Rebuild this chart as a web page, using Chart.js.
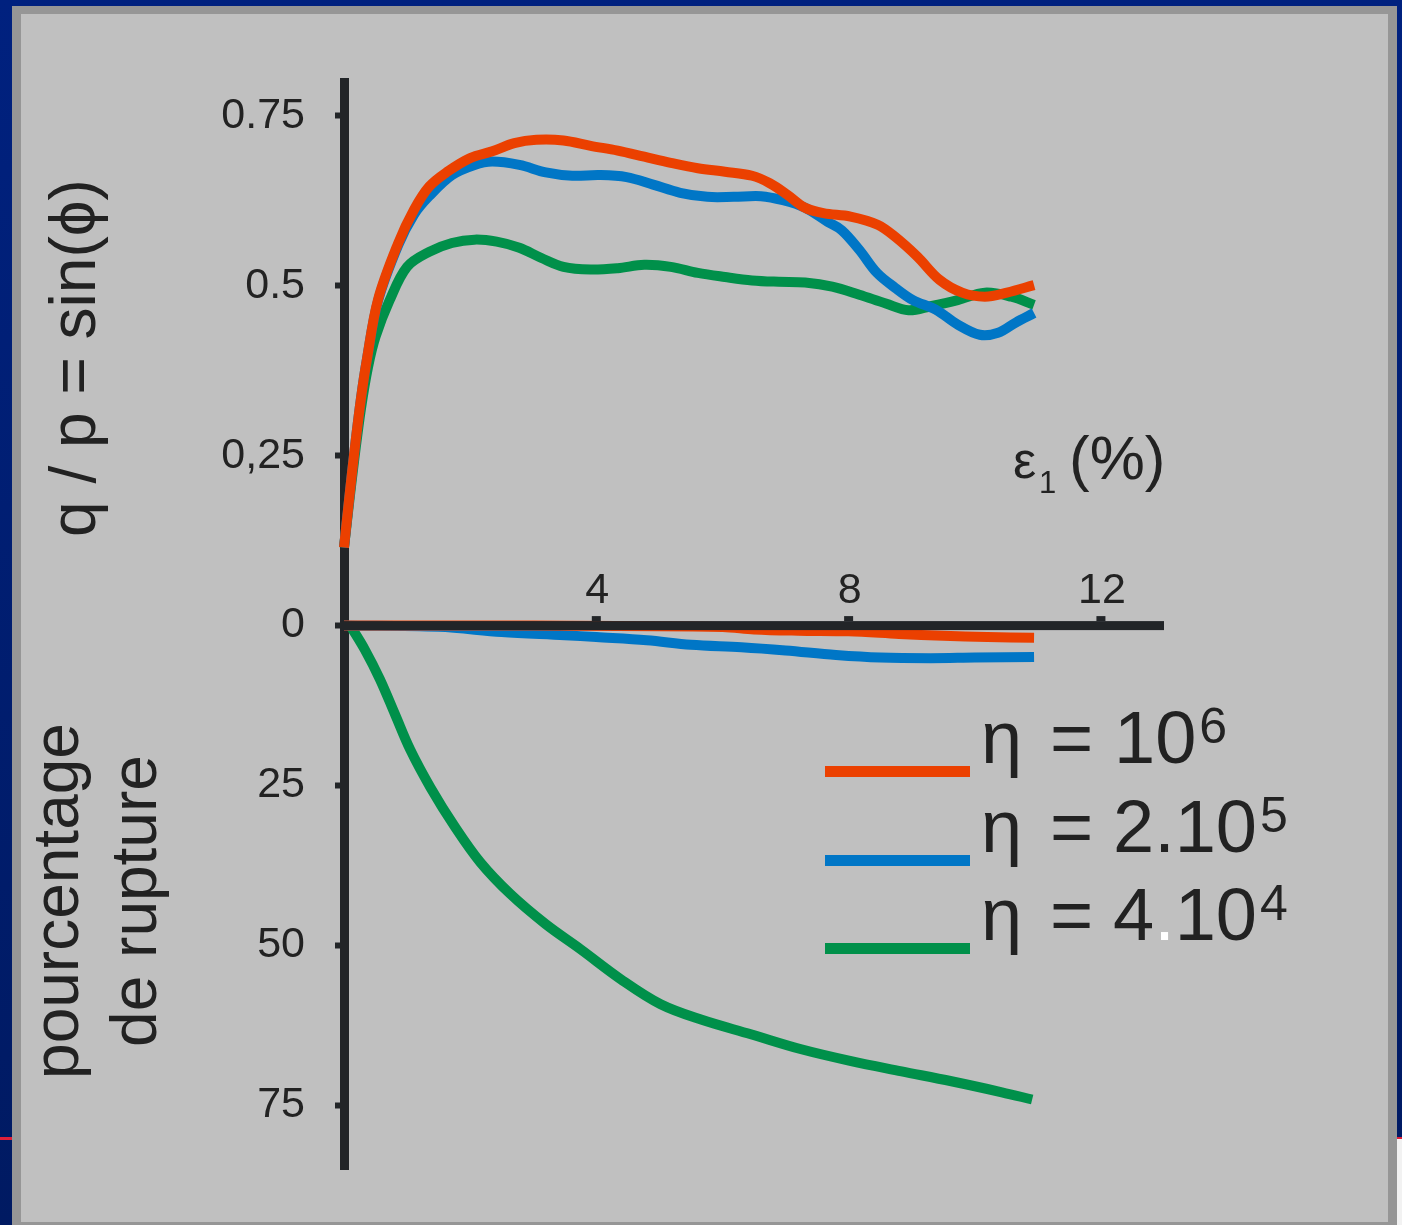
<!DOCTYPE html>
<html>
<head>
<meta charset="utf-8">
<script src="https://cdn.jsdelivr.net/npm/chart.js@4.4.0/dist/chart.umd.min.js"></script>
<style>
  html, body { margin: 0; padding: 0; }
  body { width: 1402px; height: 1225px; position: relative; overflow: hidden;
         background: linear-gradient(#00217f, #001a62); }
  #frame { position: absolute; left: 12px; top: 6px; width: 1385px; height: 1219px; background: #969696; }
  #panel { position: absolute; left: 21px; top: 14px; width: 1367px; height: 1208px; background: #c0c0c0; }
  #mark { position: absolute; left: 0; top: 1137px; width: 12px; height: 3px; background: #e0203a; }
  #edge { position: absolute; left: 1397px; top: 1137px; width: 5px; height: 88px; background: #f2f2f2;
          border-top: 2px solid #e0203a; }
  #wrap { position: absolute; left: 0; top: 0; width: 1402px; height: 1225px; }
</style>
</head>
<body>
<div id="frame"></div>
<div id="panel"></div>
<div id="mark"></div>
<div id="edge"></div>
<div id="wrap"><canvas id="myChart"></canvas></div>

<script>
// courbes q/p (haut)
const epsRed = [0, 0.08, 0.17, 0.27, 0.36, 0.54, 0.86, 1.11, 1.35, 1.64, 2.0, 2.35, 2.7, 3.05, 3.48, 3.91, 4.34, 4.76, 5.18, 5.61, 6.04, 6.47, 6.75, 7.03, 7.31, 7.6, 8.03, 8.46, 8.74, 9.09, 9.44, 9.8, 10.16, 10.51, 10.94];
const qpRed = [0.115, 0.185, 0.26, 0.335, 0.39, 0.48, 0.563, 0.612, 0.646, 0.668, 0.688, 0.698, 0.71, 0.715, 0.714, 0.706, 0.699, 0.69, 0.681, 0.673, 0.668, 0.662, 0.651, 0.634, 0.615, 0.607, 0.602, 0.59, 0.572, 0.543, 0.509, 0.49, 0.484, 0.49, 0.501];

const epsBlue = [0, 0.08, 0.17, 0.27, 0.36, 0.54, 0.86, 1.11, 1.35, 1.71, 2.07, 2.35, 2.78, 3.2, 3.62, 4.05, 4.48, 4.9, 5.33, 5.76, 6.18, 6.61, 6.96, 7.31, 7.67, 7.89, 8.17, 8.45, 8.74, 9.02, 9.38, 9.73, 10.08, 10.37, 10.65, 10.94];
const qpBlue = [0.115, 0.185, 0.26, 0.335, 0.39, 0.478, 0.56, 0.605, 0.632, 0.663, 0.678, 0.683, 0.678, 0.667, 0.662, 0.663, 0.66, 0.649, 0.637, 0.631, 0.631, 0.632, 0.626, 0.615, 0.594, 0.582, 0.553, 0.519, 0.497, 0.479, 0.465, 0.443, 0.428, 0.431, 0.446, 0.46];

const epsGreen = [0, 0.08, 0.17, 0.27, 0.38, 0.5, 0.72, 1.0, 1.35, 1.71, 2.07, 2.42, 2.78, 3.13, 3.48, 3.91, 4.34, 4.76, 5.18, 5.61, 6.04, 6.47, 6.89, 7.31, 7.74, 8.17, 8.59, 8.95, 9.3, 9.73, 10.16, 10.58, 10.94];
const qpGreen = [0.115, 0.18, 0.25, 0.32, 0.38, 0.425, 0.478, 0.528, 0.55, 0.563, 0.568, 0.565, 0.556, 0.541, 0.528, 0.524, 0.526, 0.531, 0.528, 0.519, 0.513, 0.508, 0.506, 0.505, 0.499, 0.487, 0.474, 0.464, 0.47, 0.479, 0.49, 0.484, 0.472];

// pourcentage de rupture (bas)
const ruptEpsRed = [0, 3, 6, 6.5, 7.2, 8.0, 8.8, 9.5, 10.2, 10.94];
const ruptRed = [0, 0, 0.2, 0.6, 0.8, 0.9, 1.3, 1.6, 1.8, 1.9];

const ruptEpsBlue = [0, 1.5, 2.5, 3.5, 4.0, 4.8, 5.5, 6.3, 7.0, 7.8, 8.5, 9.3, 10.0, 10.94];
const ruptBlue = [0, 0.2, 1.0, 1.5, 1.8, 2.3, 3.0, 3.4, 3.9, 4.6, 5.0, 5.1, 5.0, 4.9];

const ruptEpsGreen = [0.1, 0.33, 0.57, 0.81, 1.05, 1.37, 1.76, 2.16, 2.64, 3.2, 3.75, 4.39, 5.02, 5.66, 6.45, 7.25, 8.04, 8.84, 9.63, 10.43, 10.91];
const ruptGreen = [0, 3.75, 8.4, 13.9, 19.4, 25.3, 31.5, 37.0, 42.0, 46.7, 50.6, 55.3, 59.2, 61.6, 63.9, 66.25, 68.1, 69.7, 71.25, 72.97, 74.1];

// axes
const xTicks = [4, 8, 12];
const qpTicks = [0, 0.25, 0.5, 0.75];
const qpTickLabels = ['0', '0,25', '0.5', '0.75'];
const ruptTicks = [25, 50, 75];
const ruptTickLabels = ['25', '50', '75'];

// légende
const legendBase = ['10', '2.10', '4.10'];
const legendExp = ['6', '5', '4'];

const RED = '#eb4000', BLUE = '#0076c6', GREEN = '#00904a';
const AXIS = '#222528', TEXT = '#222222';
const FONT = '"Liberation Sans", Arial, sans-serif';

Chart.defaults.font.family = FONT;

const pts = (xs, ys) => xs.map((x, i) => ({ x: x, y: ys[i] }));

// titres, axe des x et légende dessinés à la main
const decor = {
  id: 'decor',
  afterDatasetsDraw(chart) {
    const ctx = chart.ctx;
    const x = chart.scales.x, y = chart.scales.y;
    const y0 = y.getPixelForValue(0);
    ctx.save();
    ctx.fillStyle = AXIS;
    ctx.fillRect(x.left - 4, y0 - 4.5, x.right - x.left + 4, 9);
    xTicks.forEach(v => {
      const px = x.getPixelForValue(v);
      ctx.fillRect(px - 4.5, y0 - 9.5, 9, 5);
    });
    ctx.fillStyle = TEXT;
    ctx.font = '43px ' + FONT;
    ctx.textAlign = 'center';
    ctx.textBaseline = 'alphabetic';
    xTicks.forEach(v => ctx.fillText(String(v), x.getPixelForValue(v) + 1, y0 - 23));
    ctx.restore();
  },
  afterDraw(chart) {
    const ctx = chart.ctx;
    ctx.save();
    ctx.fillStyle = TEXT;
    ctx.textBaseline = 'alphabetic';

    // titres verticaux
    ctx.font = '64px ' + FONT;
    ctx.textAlign = 'center';
    const vtext = (t, bx, cy) => {
      ctx.save();
      ctx.translate(bx, cy);
      ctx.rotate(-Math.PI / 2);
      ctx.fillText(t, 0, 0);
      ctx.restore();
    };
    vtext('q / p = sin(\u03D5)', 95, 358);
    vtext('pourcentage', 78, 901);
    vtext('de rupture', 156, 901);

    // epsilon_1 (%)
    ctx.textAlign = 'left';
    ctx.font = '52px ' + FONT;
    ctx.fillText('\u03B5', 1013, 478);
    ctx.font = '31px ' + FONT;
    ctx.fillText('1', 1039, 493);
    ctx.font = '62px ' + FONT;
    ctx.fillText('(%)', 1069, 479);

    // légende
    const colors = [RED, BLUE, GREEN];
    const baselines = [763, 852, 940];
    colors.forEach((c, i) => {
      const b = baselines[i];
      ctx.fillStyle = c;
      ctx.fillRect(825, b + 3, 145, 11);
      ctx.fillStyle = TEXT;
      ctx.font = '74px ' + FONT;
      ctx.fillText('\u03B7', 981, b);
      ctx.fillText('=', 1050, b);
      let px = i === 0 ? 1114 : 1113;
      const parts = legendBase[i].split('.');
      parts.forEach((p, k) => {
        ctx.fillStyle = TEXT;
        ctx.fillText(p, px, b);
        px += ctx.measureText(p).width;
        if (k < parts.length - 1) {
          ctx.fillStyle = i === 2 ? '#ffffff' : TEXT;
          ctx.fillText('.', px, b);
          px += ctx.measureText('.').width;
        }
      });
      ctx.fillStyle = TEXT;
      ctx.font = '50px ' + FONT;
      ctx.fillText(legendExp[i], px + 3, b - 20);
    });
    ctx.restore();
  }
};

const lineSet = (label, data, color, axis) => ({
  label: label, data: data, borderColor: color, backgroundColor: color,
  yAxisID: axis, borderWidth: 10, pointRadius: 0, tension: 0.35, clip: false,
  borderCapStyle: 'butt', fill: false
});

const tickFont = { size: 43 };

new Chart('myChart', {
  type: 'line',
  data: {
    datasets: [
      lineSet('\u03B7 = 10^6', pts(epsRed, qpRed), RED, 'y'),
      lineSet('\u03B7 = 2.10^5', pts(epsBlue, qpBlue), BLUE, 'y'),
      lineSet('\u03B7 = 4.10^4', pts(epsGreen, qpGreen), GREEN, 'y'),
      lineSet('rupture 10^6', pts(ruptEpsRed, ruptRed), RED, 'y2'),
      lineSet('rupture 2.10^5', pts(ruptEpsBlue, ruptBlue), BLUE, 'y2'),
      lineSet('rupture 4.10^4', pts(ruptEpsGreen, ruptGreen), GREEN, 'y2')
    ]
  },
  options: {
    responsive: true,
    maintainAspectRatio: false,
    animation: false,
    layout: { padding: { left: 214, top: 82, right: 238, bottom: 55 } },
    plugins: { legend: { display: false }, tooltip: { enabled: false } },
    scales: {
      x: { type: 'linear', display: false, min: 0, max: 13 },
      y: {
        type: 'linear', position: 'left', stack: 'v', stackWeight: 1, weight: 2,
        min: 0, max: 0.8,
        afterFit: s => { s.width = 130; },
        afterBuildTicks: s => { s.ticks = qpTicks.map(v => ({ value: v })); },
        ticks: {
          autoSkip: false, padding: 30, color: TEXT, font: tickFont,
          callback: (v, i) => qpTickLabels[i]
        },
        grid: { drawOnChartArea: false, tickLength: 9, tickWidth: 6, tickColor: AXIS },
        border: { width: 9, color: AXIS }
      },
      y2: {
        type: 'linear', position: 'left', stack: 'v', stackWeight: 1, weight: 1,
        min: 0, max: 85, reverse: true,
        afterFit: s => { s.width = 130; },
        afterBuildTicks: s => { s.ticks = ruptTicks.map(v => ({ value: v })); },
        ticks: {
          autoSkip: false, padding: 30, color: TEXT, font: tickFont,
          callback: (v, i) => ruptTickLabels[i]
        },
        grid: { drawOnChartArea: false, tickLength: 9, tickWidth: 6, tickColor: AXIS },
        border: { width: 9, color: AXIS }
      }
    }
  },
  plugins: [decor]
});
</script>
</body>
</html>
